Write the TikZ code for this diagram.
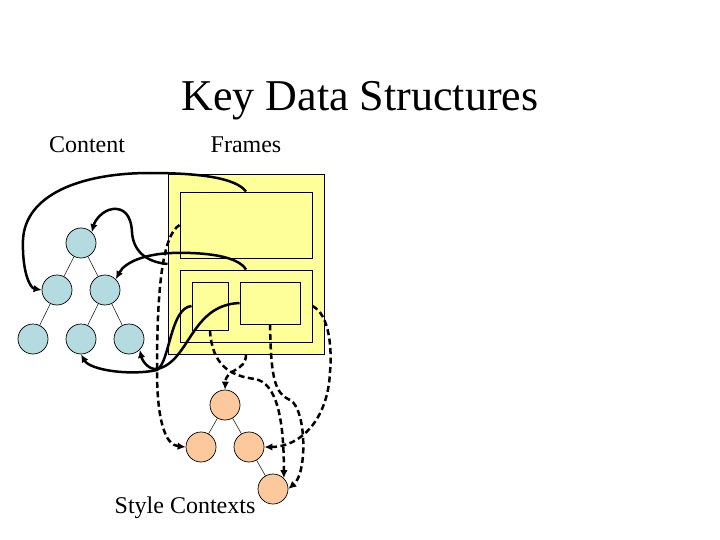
\documentclass[tikz,border=0pt]{standalone}
\usepackage{fontspec}
\setmainfont{Liberation Serif}
\usetikzlibrary{arrows.meta}
\definecolor{contentblue}{HTML}{B4DCE0}
\definecolor{styleorange}{HTML}{FCC99C}
\definecolor{frameyellow}{HTML}{FFFF99}
\tikzset{
  cnode/.style={circle,draw=black,line width=0.7pt,fill=contentblue,minimum size=30pt,inner sep=0pt},
  snode/.style={circle,draw=black,line width=0.7pt,fill=styleorange,minimum size=30pt,inner sep=0pt},
  framebox/.style={draw=black,line width=0.9pt,fill=frameyellow,inner sep=0pt},
  treeedge/.style={line width=0.5pt},
  link/.style={line width=2.5pt,-{Latex[length=8pt,width=7.5pt]}},
  dlink/.style={link,dash pattern=on 6pt off 3.5pt},
  lbl/.style={font=\fontsize{24}{28}\selectfont,anchor=base,inner sep=0pt}
}
\begin{document}
\begin{tikzpicture}[x=1pt,y=-1pt]
\useasboundingbox (0,0) rectangle (720,540);
% labels
\node[anchor=base,inner sep=0pt,font=\fontsize{44}{50}\selectfont] (title) at (360,111) {Key Data Structures};
\node[lbl] (lcontent) at (87,153) {Content};
\node[lbl] (lframes) at (246,153) {Frames};
\node[lbl] (lstyle) at (185,513) {Style Contexts};
% frames
\node[framebox,minimum width=156pt,minimum height=180pt] (yel) at (246,264) {};
\node[framebox,minimum width=132pt,minimum height=66pt] (r1) at (246,225) {};
\node[framebox,minimum width=132pt,minimum height=72pt] (r2) at (246,306) {};
\node[framebox,minimum width=36pt,minimum height=48pt] (ba) at (210,306) {};
\node[framebox,minimum width=60pt,minimum height=42pt] (bb) at (270,303) {};
% content tree
\node[cnode] (c0) at (81,243) {};
\node[cnode] (c1) at (57,290) {};
\node[cnode] (c2) at (105,290) {};
\node[cnode] (c3) at (33,339) {};
\node[cnode] (c4) at (81,339) {};
\node[cnode] (c5) at (129,339) {};
\draw[treeedge] (c0) -- (c1);
\draw[treeedge] (c0) -- (c2);
\draw[treeedge] (c1) -- (c3);
\draw[treeedge] (c2) -- (c4);
\draw[treeedge] (c2) -- (c5);
% style tree
\node[snode] (o0) at (225,405) {};
\node[snode] (o1) at (201,447) {};
\node[snode] (o2) at (249,447) {};
\node[snode] (o3) at (273,489) {};
\draw[treeedge] (o0) -- (o1);
\draw[treeedge] (o0) -- (o2);
\draw[treeedge] (o2) -- (o3);
% solid connectors
\draw[link] (r1.north) .. controls (236,178) and (200,173) .. (150,173)
  .. controls (80,173) and (25,195) .. (23,240)
  .. controls (22,272) and (30,288) .. (c1.west);
\draw[link] (yel.west) .. controls (145,262) and (133,250) .. (132,232)
  .. controls (131,214) and (123,208) .. (113,209)
  .. controls (103,210) and (95,220) .. (c0.north east);
\draw[link] (r2.north) .. controls (238,256) and (205,252) .. (172,253)
  .. controls (145,254) and (125,262) .. (c2.north east);
\draw[link] (ba.west) .. controls (170,308) and (170,362) .. (157,370)
  .. controls (130,376) and (90,370) .. (c4.south);
\draw[link] (bb.west) .. controls (190,305) and (190,362) .. (157,369)
  .. controls (148,370) and (142,360) .. (c5.south east);
% dashed connectors
\draw[dlink] (r1.west) .. controls (163,235) and (157,285) .. (157,370)
  .. controls (157,420) and (165,445) .. (o1.west);
\draw[dlink] (ba.south) .. controls (212,365) and (230,376) .. (255,379)
  .. controls (277,383) and (284,420) .. (o3.north east);
\draw[dlink] (yel.south) .. controls (246,372) and (226,368) .. (o0.north);
\draw[dlink] (bb.south) .. controls (271,380) and (275,393) .. (290,400)
  .. controls (306,408) and (308,472) .. (o3.east);
\draw[dlink] (r2.east) .. controls (330,315) and (332,350) .. (330,372)
  .. controls (328,420) and (300,447) .. (o2.east);
\end{tikzpicture}
\end{document}
